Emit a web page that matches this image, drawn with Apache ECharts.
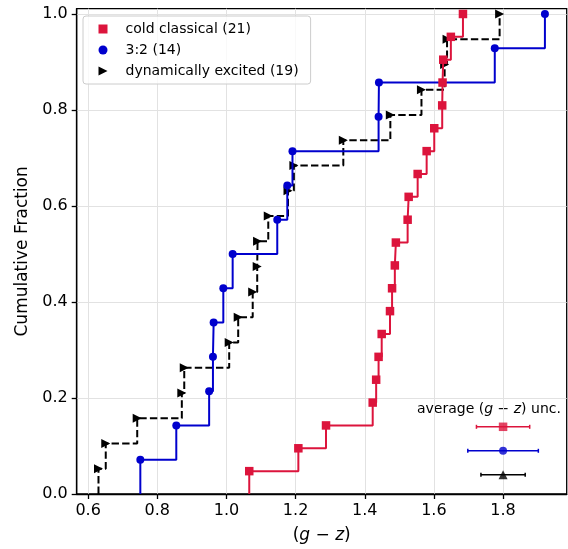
<!DOCTYPE html>
<html><head><meta charset="utf-8">
<script src="https://cdn.jsdelivr.net/npm/echarts@6/dist/echarts.min.js"></script>
<style>html,body{margin:0;padding:0;background:#fff}#c{width:568px;height:549px}</style>
</head><body><div id="c"></div>
<script>
// sorted (g - z) colours per population
const coldX = [1.066, 1.208, 1.288, 1.423, 1.433, 1.440, 1.449, 1.473, 1.479, 1.487, 1.490,
               1.524, 1.527, 1.553, 1.579, 1.601, 1.624, 1.625, 1.627, 1.649, 1.684];
const resX  = [0.751, 0.855, 0.950, 0.961, 0.963, 0.991, 1.018, 1.147, 1.176, 1.191,
               1.440, 1.441, 1.776, 1.921];
const dynX  = [0.630, 0.651, 0.742, 0.871, 0.878, 1.008, 1.034, 1.076, 1.089, 1.090,
               1.121, 1.178, 1.195, 1.338, 1.474, 1.564, 1.631, 1.638, 1.790];
const seriesNames = ['cold classical (21)', '3:2 (14)', 'dynamically excited (19)'];
const xTicks = [0.6, 0.8, 1.0, 1.2, 1.4, 1.6, 1.8];
const yTicks = [0, 0.2, 0.4, 0.6, 0.8, 1.0];
// average uncertainty error bars
const uncX = [1.8, 1.8, 1.8];
const uncY = [0.14, 0.09, 0.04];
const uncHalf = [0.077, 0.102, 0.064];

const colors = ['#dc143c', '#0000cd', '#000000'];
const triRight = 'path://M0,0L10,5L0,10Z';
const square = 'path://M0,0L10,0L10,10L0,10Z';
const FONT = 'DejaVu Sans';

function cdf(xs) {
  const n = xs.length;
  const d = [{ value: [xs[0], 0], symbol: 'none' }];
  xs.forEach((x, i) => d.push([x, (i + 1) / n]));
  return d;
}

const chart = echarts.init(document.getElementById('c'), null, { renderer: 'canvas' });
const option = {
  animation: false,
  backgroundColor: '#fff',
  textStyle: { fontFamily: FONT },
  grid: { left: 76.7, right: 1.3, top: 8.7, bottom: 52.3, show: true, borderColor: '#000', borderWidth: 1.3, containLabel: false },
  xAxis: {
    type: 'value', min: 0.567, max: 1.984,
    name: '({i|g} − {i|z})', nameLocation: 'middle', nameGap: 33,
    nameTextStyle: { fontSize: 17, color: '#000', fontFamily: FONT,
      rich: { i: { fontStyle: 'italic', fontSize: 17, fontFamily: FONT, color: '#000' } } },
    axisLine: { show: true, onZero: false, lineStyle: { color: '#000', width: 1.3 } },
    axisTick: { show: true, customValues: xTicks, length: 5, lineStyle: { color: '#000', width: 1.3 } },
    axisLabel: { customValues: xTicks, formatter: v => v.toFixed(1), fontSize: 16, color: '#000', margin: 9, fontFamily: FONT },
    splitLine: { show: true, lineStyle: { color: '#e2e2e2', width: 1 } }
  },
  yAxis: {
    type: 'value', min: 0, max: 1.011,
    name: 'Cumulative Fraction', nameLocation: 'middle', nameGap: 44,
    nameTextStyle: { fontSize: 17, color: '#000', fontFamily: FONT },
    axisLine: { show: true, onZero: false, lineStyle: { color: '#000', width: 1.3 } },
    axisTick: { show: true, customValues: yTicks, length: 5, lineStyle: { color: '#000', width: 1.3 } },
    axisLabel: { customValues: yTicks, formatter: v => v.toFixed(1), fontSize: 16, color: '#000', margin: 9, fontFamily: FONT },
    splitLine: { show: true, lineStyle: { color: '#e2e2e2', width: 1 } }
  },
  legend: {
    orient: 'vertical', left: 83, top: 16, padding: [6, 12, 6, 15.5],
    itemWidth: 35, itemHeight: 9, itemGap: 7, selectedMode: false, symbolKeepAspect: true,
    backgroundColor: 'rgba(255,255,255,0.8)', borderColor: '#cccccc', borderWidth: 1, borderRadius: 3,
    textStyle: { fontSize: 14, fontFamily: FONT, color: '#000' },
    data: [
      { name: seriesNames[0], icon: square },
      { name: seriesNames[1], icon: 'circle' },
      { name: seriesNames[2], icon: triRight }
    ]
  },
  graphic: [{
    type: 'text', left: 417, top: 402,
    style: {
      text: 'average ({i|g} − {i|z}) unc.', fontSize: 14, fontFamily: FONT, fill: '#000',
      rich: { i: { fontStyle: 'italic', fontSize: 14, fontFamily: FONT } }
    }
  }],
  series: [
    {
      name: seriesNames[2], type: 'line', step: 'end', data: cdf(dynX),
      symbol: triRight, symbolSize: 9, symbolKeepAspect: true, showSymbol: true,
      itemStyle: { color: colors[2] }, lineStyle: { color: colors[2], width: 2, type: [7.4, 3.2] }, z: 2
    },
    {
      name: seriesNames[1], type: 'line', step: 'end', data: cdf(resX),
      symbol: 'circle', symbolSize: 8, showSymbol: true,
      itemStyle: { color: colors[1] }, lineStyle: { color: colors[1], width: 2 }, z: 3
    },
    {
      name: seriesNames[0], type: 'line', step: 'end', data: cdf(coldX),
      symbol: 'rect', symbolSize: 8.5, showSymbol: true,
      itemStyle: { color: colors[0] }, lineStyle: { color: colors[0], width: 2 }, z: 4
    },
    {
      type: 'custom', z: 5,
      data: uncY.map((y, i) => [uncX[i] - uncHalf[i], uncX[i] + uncHalf[i], y, i]),
      encode: { x: [0, 1], y: 2 },
      renderItem: (params, api) => {
        const p1 = api.coord([api.value(0), api.value(2)]);
        const p2 = api.coord([api.value(1), api.value(2)]);
        const c = colors[api.value(3)];
        const st = { stroke: c, lineWidth: 1.5 };
        return { type: 'group', children: [
          { type: 'line', shape: { x1: p1[0], y1: p1[1], x2: p2[0], y2: p2[1] }, style: st },
          { type: 'line', shape: { x1: p1[0], y1: p1[1] - 2, x2: p1[0], y2: p1[1] + 2 }, style: st },
          { type: 'line', shape: { x1: p2[0], y1: p2[1] - 2, x2: p2[0], y2: p2[1] + 2 }, style: st }
        ] };
      }
    },
    {
      type: 'scatter', z: 6,
      data: [
        { value: [uncX[0], uncY[0]], symbol: 'rect', symbolSize: 8.5, itemStyle: { color: colors[0] } },
        { value: [uncX[1], uncY[1]], symbol: 'circle', symbolSize: 8, itemStyle: { color: colors[1] } },
        { value: [uncX[2], uncY[2]], symbol: 'triangle', symbolSize: 9, itemStyle: { color: colors[2] } }
      ]
    }
  ]
};
chart.setOption(option);
</script>
</body></html>
